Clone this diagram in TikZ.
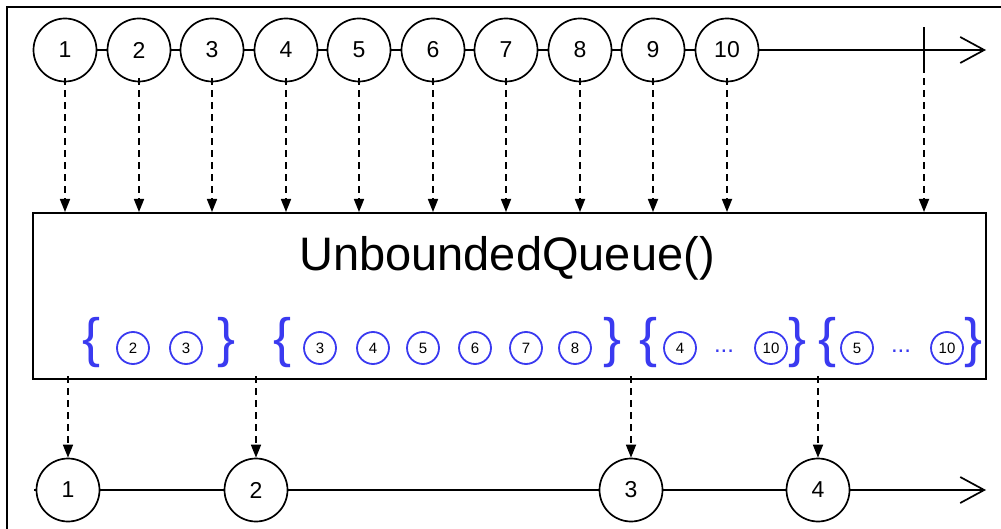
\documentclass[tikz,border=0pt]{standalone}
\usepackage{fontspec}
\setmainfont{Liberation Sans}
\usetikzlibrary{arrows.meta}
\definecolor{queueblue}{RGB}{58,58,240}

\begin{document}
\begin{tikzpicture}[x=1pt, y=-1pt,
    marble/.style={draw, circle, line width=1.7pt, fill=white, minimum size=63pt, inner sep=0pt, font=\fontsize{23}{23}\selectfont},
    item/.style={draw=queueblue, circle, line width=1.8pt, minimum size=32pt, inner sep=0pt, font=\fontsize{15}{15}\selectfont},
    brace/.style={text=queueblue, inner sep=0pt, font=\fontsize{54}{54}\selectfont},
    flow/.style={line width=1.7pt, dash pattern=on 7pt off 5pt, -{Triangle[width=10pt, length=13pt]}},
    timeline/.style={line width=1.7pt, -{Straight Barb[length=24pt, width=26pt, line width=1.7pt]}}]
    \useasboundingbox (0,0) rectangle (1001,529);
    \draw[line width=1.8pt] (7,529) -- (7,7) -- (1001,7);

    % source
    \foreach \x [count=\i] in {65,139,212,286,359,433,506,580,653,727}
        \node[marble] (t\i) at (\x,50) {\i};
    \coordinate (tend) at (986,50);
    \coordinate (done) at (924,50);
    \draw[timeline] (t1) -- (t2) -- (t3) -- (t4) -- (t5) -- (t6) -- (t7) -- (t8) -- (t9) -- (t10) -- (tend);
    \draw[line width=1.7pt] ([yshift=-23pt]done) -- ([yshift=23pt]done);

    % operator
    \node[draw, line width=2pt, minimum width=953pt, minimum height=166pt] (box) at (509.5,296) {};
    \node[font=\fontsize{47}{47}\selectfont] (title) at (507,258) {UnboundedQueue()};

    \foreach \i in {1,...,10}
        \draw[flow] ([yshift=4pt]t\i.south) -- (t\i.south |- box.north);
    \draw[flow] ([yshift=4pt]done |- t1.south) -- (done |- box.north);

    % buffered items
    \foreach \x/\n [count=\i] in {133/2,186/3,320/3,373/4,423/5,475/6,526/7,575/8,680/4,771/10,857/5,947/10}
        \node[item] (q\i) at (\x,348) {\n};
    \foreach \x [count=\i] in {92,283,649,828}
        \node[brace] (open\i) at (\x,343) {\{};
    \foreach \x [count=\i] in {227,613,798,974}
        \node[brace] (close\i) at (\x,343) {\}};
    \node[text=queueblue, font=\fontsize{24}{24}\selectfont] (dots1) at (724,351) {...};
    \node[text=queueblue, font=\fontsize{24}{24}\selectfont] (dots2) at (901,351) {...};

    % result
    \foreach \x [count=\i] in {68,256,631,818}
        \node[marble] (b\i) at (\x,490) {\i};
    \coordinate (bstart) at (34,490);
    \coordinate (bend) at (986,490);
    \draw[timeline] (bstart) -- (b1) -- (b2) -- (b3) -- (b4) -- (bend);
    \foreach \i in {1,...,4}
        \draw[flow] ([yshift=4pt]box.south -| b\i.north) -- (b\i.north);
\end{tikzpicture}
\end{document}
